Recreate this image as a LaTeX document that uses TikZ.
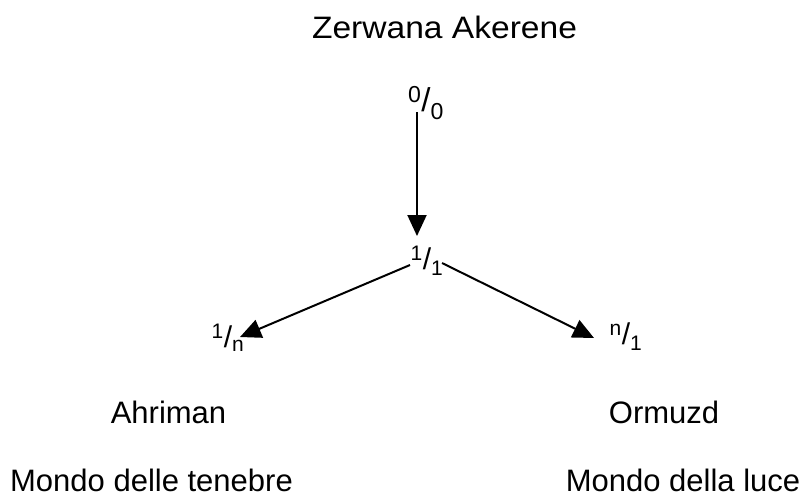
\documentclass[tikz,border=0pt]{standalone}
\usepackage{fontspec}
\setmainfont{Liberation Sans}
\usetikzlibrary{arrows.meta}
\begin{document}
\begin{tikzpicture}[x=1pt,y=-1pt,
  lbl/.style={inner sep=0pt,anchor=base,font=\fontsize{31}{36}\selectfont},
  frac/.style={inner sep=0pt,font=\fontsize{30}{34}\selectfont},
  arr/.style={line width=2pt,-{Triangle[length=21pt,width=19pt]}}]
\useasboundingbox (0,0) rectangle (803,499);
\node[lbl,xscale=1.083] (z) at (444.5,38) {Zerwana Akerene};
\node[frac,font=\fontsize{33}{36}\selectfont] (f00) at (426,103) {\textsuperscript{0}/\textsubscript{0}};
\node[frac] (f11) at (427,261) {\textsuperscript{1}/\textsubscript{1}};
\node[frac] (f1n) at (228,338) {\textsuperscript{1}/\textsubscript{n}};
\node[frac] (fn1) at (626,337) {\textsuperscript{n}/\textsubscript{1}};
\coordinate (a0) at (417,112);
\coordinate (a1) at (417,236);
\coordinate (l0) at (410,265);
\coordinate (l1) at (240,337);
\coordinate (r0) at (442,263);
\coordinate (r1) at (594,338);
\draw[arr] (a0) -- (a1);
\draw[arr] (l0) -- (l1);
\draw[arr] (r0) -- (r1);
\node[lbl] (ah) at (168.5,423) {Ahriman};
\node[lbl] (or) at (664,423) {Ormuzd};
\node[lbl] (mt) at (151.5,491) {Mondo delle tenebre};
\node[lbl] (ml) at (683,491) {Mondo della luce};
\end{tikzpicture}
\end{document}
